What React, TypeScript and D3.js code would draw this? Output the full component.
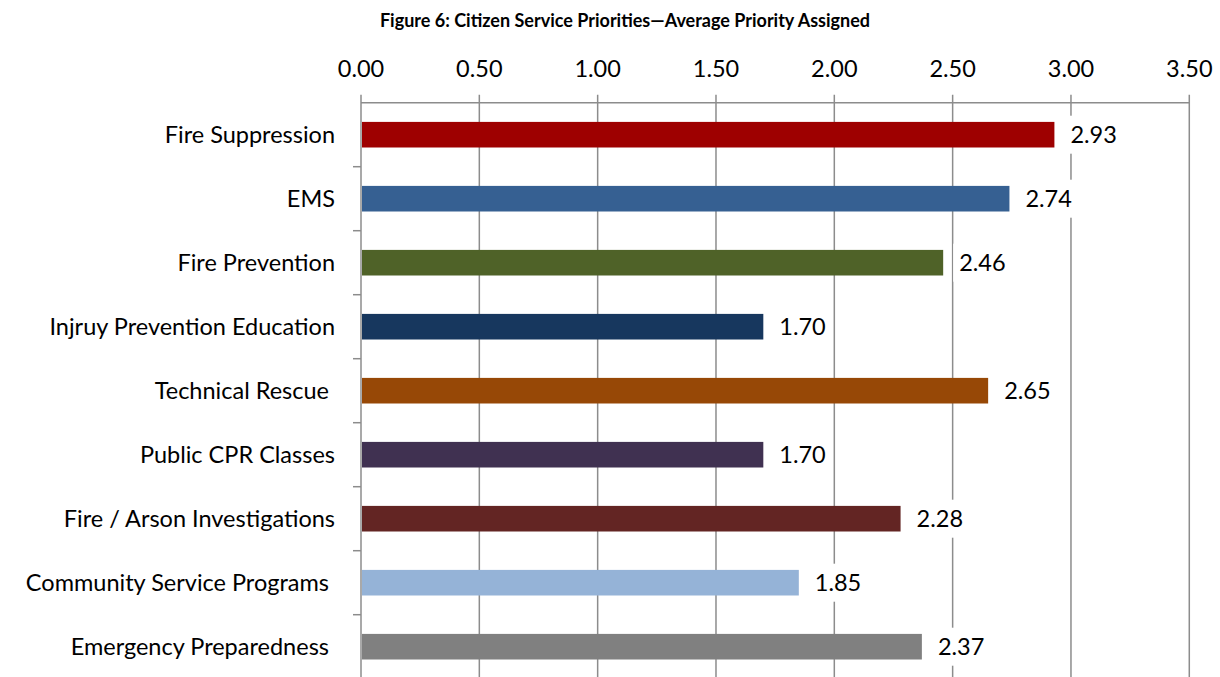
import React, { useEffect, useRef } from "react";
import * as d3 from "d3";

const categories = [
  "Fire Suppression",
  "EMS",
  "Fire Prevention",
  "Injruy Prevention Education",
  "Technical Rescue ",
  "Public CPR Classes",
  "Fire / Arson Investigations",
  "Community Service Programs ",
  "Emergency Preparedness ",
];
const values = [2.93, 2.74, 2.46, 1.7, 2.65, 1.7, 2.28, 1.85, 2.37];
const colors = [
  "#9E0000",
  "#366092",
  "#4F6228",
  "#17375E",
  "#974806",
  "#403151",
  "#632523",
  "#95B3D7",
  "#808080",
];
const xTicks = [0, 0.5, 1, 1.5, 2, 2.5, 3, 3.5];
const title = "Figure 6: Citizen Service Priorities\u2014Average Priority Assigned";

const W = 1220;
const H = 677;
const FONT = "Lato, 'Open Sans', sans-serif";
const FS = 23.5;

export default function App() {
  const ref = useRef<SVGSVGElement>(null);
  useEffect(() => {
    document.body.style.margin = "0";
    const svg = d3.select(ref.current);
    svg.selectAll("*").remove();
    const left = 361;
    const right = 1189.3;
    const top = 102.7;
    const step = 64;
    const x = d3.scaleLinear().domain([0, 3.5]).range([left, right]);
    const y = d3
      .scaleBand<string>()
      .domain(categories)
      .range([top, top + step * categories.length])
      .paddingInner(0.6)
      .paddingOuter(0.3);
    const grid = "#8c8c8c";

    svg
      .append("text")
      .attr("x", 625)
      .attr("y", 27)
      .attr("text-anchor", "middle")
      .attr("font-family", FONT)
      .attr("font-weight", "bold")
      .attr("font-size", 18)
      .attr("fill", "#000")
      .text(title);

    // gridlines
    svg
      .append("g")
      .selectAll("line")
      .data(xTicks)
      .join("line")
      .attr("x1", (d) => x(d))
      .attr("x2", (d) => x(d))
      .attr("y1", top - 8)
      .attr("y2", H + 10)
      .attr("stroke", grid)
      .attr("stroke-width", 1.5);

    // top axis line
    svg
      .append("line")
      .attr("x1", left)
      .attr("x2", right)
      .attr("y1", top)
      .attr("y2", top)
      .attr("stroke", grid)
      .attr("stroke-width", 1.5);

    // category ticks
    svg
      .append("g")
      .selectAll("line")
      .data(d3.range(1, categories.length + 1))
      .join("line")
      .attr("x1", left - 8)
      .attr("x2", left)
      .attr("y1", (i) => top + i * step)
      .attr("y2", (i) => top + i * step)
      .attr("stroke", grid)
      .attr("stroke-width", 1.5);

    // tick labels
    svg
      .append("g")
      .selectAll("text")
      .data(xTicks)
      .join("text")
      .attr("x", (d) => x(d))
      .attr("y", 76.5)
      .attr("text-anchor", "middle")
      .attr("font-family", FONT)
      .attr("font-size", FS)
      .attr("fill", "#000")
      .text((d) => d3.format(".2f")(d));

    // bars
    svg
      .append("g")
      .selectAll("rect")
      .data(values)
      .join("rect")
      .attr("x", x(0) + 1)
      .attr("y", (d, i) => y(categories[i])!)
      .attr("width", (d) => x(d) - x(0) - 1)
      .attr("height", y.bandwidth())
      .attr("fill", (d, i) => colors[i]);

    // category labels
    svg
      .append("g")
      .selectAll("text")
      .data(categories)
      .join("text")
      .attr("x", 335)
      .attr("y", (d) => y(d)! + y.bandwidth() / 2)
      .attr("dy", "0.35em")
      .attr("text-anchor", "end")
      .attr("font-family", FONT)
      .attr("font-size", FS)
      .attr("fill", "#000")
      .style("white-space", "pre")
      .text((d) => d);

    // value labels with white background
    const vl = svg
      .append("g")
      .selectAll("g")
      .data(values)
      .join("g");
    const txt = vl
      .append("text")
      .attr("x", (d) => x(d) + 16)
      .attr("y", (d, i) => y(categories[i])! + y.bandwidth() / 2)
      .attr("dy", "0.35em")
      .attr("font-family", FONT)
      .attr("font-size", FS)
      .attr("fill", "#000")
      .text((d) => d3.format(".2f")(d));
    txt.each(function (d, i) {
      const bb = (this as SVGTextElement).getBBox();
      d3.select((this as SVGTextElement).parentNode as SVGGElement)
        .insert("rect", "text")
        .attr("x", bb.x - 6)
        .attr("y", y(categories[i])! + y.bandwidth() / 2 - 19)
        .attr("width", bb.width + 12)
        .attr("height", 38)
        .attr("fill", "#fff");
    });
  }, []);
  return (
    <svg
      ref={ref}
      width={W}
      height={H}
      style={{ display: "block", background: "#fff" }}
    />
  );
}
